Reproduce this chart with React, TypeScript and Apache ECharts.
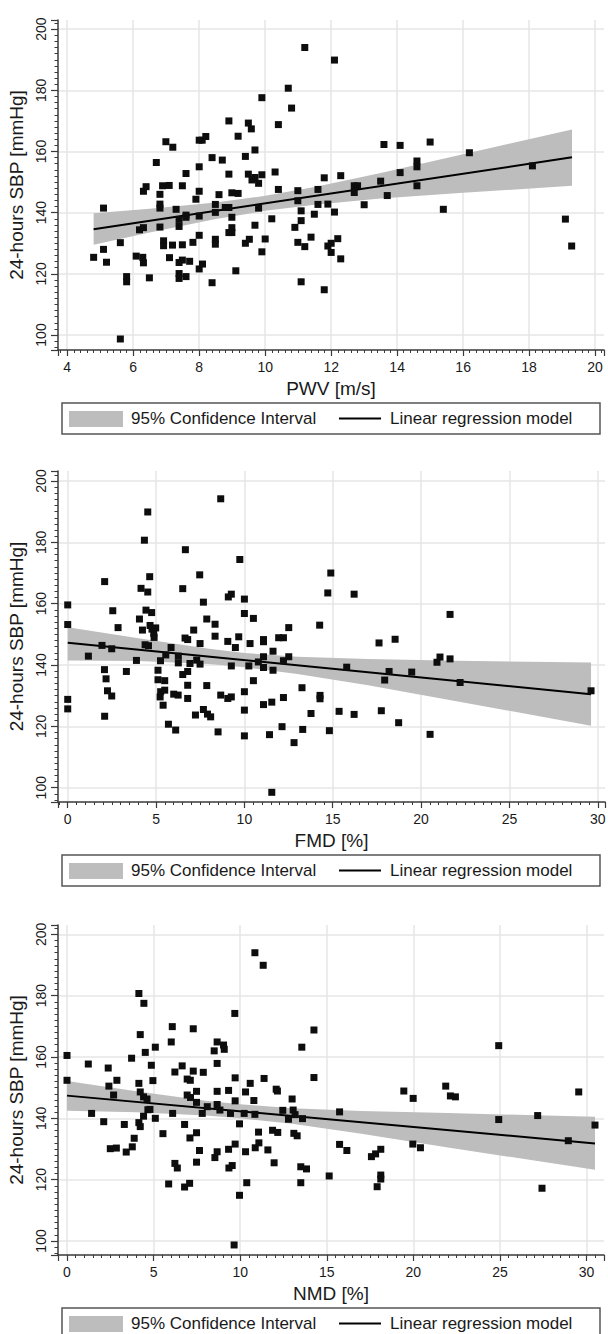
import React, { useEffect, useRef } from "react";
import * as echarts from "echarts";

const FONT = '"Liberation Sans", Arial, Helvetica, sans-serif';
const TEXT = "#1a1a1a";
const AXIS = "#3a3a3a";

const yAxisTitle = "24-hours SBP [mmHg]";
const xAxisTitles = ["PWV [m/s]", "FMD [%]", "NMD [%]"];
const legendLabels = ["95% Confidence Interval", "Linear regression model"];

// ---------- Panel 1: PWV ----------
const pwvPoints: number[][] = [
  [4.8, 125.4], [5.1, 141.5], [5.1, 128.0], [5.19, 123.8], [5.61, 130.2], [5.61, 98.7], [5.8, 119.1], [5.8, 117.4],
  [6.09, 125.8], [6.19, 134.4], [6.31, 135.1], [6.29, 125.4], [6.31, 123.6], [6.31, 147.0], [6.39, 148.5], [6.49, 118.7],
  [6.7, 156.4], [6.81, 146.0], [6.81, 142.8], [6.81, 141.5], [6.81, 135.3], [6.89, 148.8], [6.92, 130.8], [6.92, 129.2],
  [6.99, 163.2], [7.09, 148.9], [7.1, 125.3], [7.2, 161.4], [7.19, 129.4], [7.3, 141.1], [7.39, 137.8], [7.39, 135.5],
  [7.39, 123.7], [7.39, 120.1], [7.39, 118.5], [7.49, 148.8], [7.49, 129.5], [7.49, 124.5], [7.6, 152.8], [7.6, 139.2],
  [7.6, 138.5], [7.6, 119.1], [7.71, 124.1], [7.81, 130.3], [7.9, 144.4], [8.0, 163.7], [8.0, 155.0], [8.0, 147.0],
  [8.0, 138.9], [8.0, 132.6], [8.0, 121.6], [8.09, 163.7], [8.1, 123.2], [8.2, 164.9], [8.39, 158.0], [8.39, 117.1],
  [8.49, 142.7], [8.49, 140.1], [8.49, 131.3], [8.49, 129.7], [8.6, 145.9], [8.7, 157.2], [8.79, 141.7], [8.9, 170.0],
  [8.9, 152.6], [8.9, 141.7], [8.9, 133.5], [8.99, 146.5], [8.99, 138.5], [8.99, 135.1], [8.99, 133.5], [9.11, 121.0],
  [9.18, 165.0], [9.18, 146.3], [9.4, 158.4], [9.4, 130.0], [9.49, 169.3], [9.49, 152.6], [9.52, 131.3], [9.58, 167.4],
  [9.6, 150.7], [9.69, 160.5], [9.69, 151.5], [9.69, 135.9], [9.8, 149.6], [9.8, 141.5], [9.9, 177.6], [9.9, 152.4],
  [9.9, 127.2], [10.0, 131.4], [10.2, 138.0], [10.3, 153.3], [10.4, 168.8], [10.4, 147.6], [10.7, 180.7], [10.8, 174.2],
  [10.9, 135.2], [10.99, 147.2], [10.99, 143.9], [10.99, 130.3], [11.09, 117.4], [11.09, 140.6], [11.09, 137.4],
  [11.2, 194.0], [11.2, 128.9], [12.1, 189.9], [11.79, 151.4], [11.6, 147.6], [11.6, 142.7], [11.9, 142.8],
  [11.49, 139.5], [12.1, 140.2], [11.39, 132.0], [11.9, 129.1], [12.0, 130.0], [12.2, 131.5], [12.0, 127.0],
  [12.29, 124.9], [11.79, 114.8], [12.29, 152.1], [12.7, 148.8], [12.8, 148.8], [12.7, 146.6], [13.0, 142.6],
  [13.5, 150.3], [13.6, 162.3], [13.7, 145.6], [14.09, 162.0], [14.09, 153.1], [14.6, 156.9], [14.6, 155.0],
  [14.6, 148.8], [15.0, 163.1], [15.4, 141.1], [16.19, 159.6], [18.1, 155.3], [19.1, 137.9], [19.29, 129.1],
];
const pwvFit: number[][] = [[4.8, 134.6], [19.3, 158.1]];
const pwvCiX = [4.8, 6.5, 8.5, 10.0, 11.5, 13.5, 16.0, 19.3];
const pwvCiLow = [129.5, 133.5, 137.9, 140.6, 142.6, 144.6, 146.5, 148.8];
const pwvCiHigh = [139.8, 141.3, 143.3, 145.5, 148.4, 153.0, 159.1, 167.2];

// ---------- Panel 2: FMD ----------
const fmdPoints: number[][] = [
  [0, 159.6], [0, 153.2], [0, 128.8], [0, 125.7], [1.17, 142.9], [1.94, 146.4], [2.09, 167.2], [2.08, 138.5],
  [2.17, 135.5], [2.09, 123.3], [2.25, 131.6], [2.49, 129.9], [2.55, 157.7], [2.49, 145.3], [2.85, 152.2], [3.32, 137.9],
  [3.89, 141.5], [4.06, 155.0], [4.15, 165.0], [4.23, 151.4], [4.34, 180.7], [4.43, 157.9], [4.38, 146.6], [4.53, 163.8],
  [4.53, 189.9], [4.64, 168.8], [4.57, 146.3], [4.66, 152.9], [4.75, 157.1], [4.77, 151.7], [4.87, 150.3], [4.98, 152.1],
  [4.89, 149.0], [5.11, 138.3], [5.11, 135.2], [5.25, 141.4], [5.26, 131.3], [5.23, 129.6], [5.4, 126.9], [5.49, 134.9],
  [5.49, 131.8], [5.55, 143.3], [5.7, 120.7], [5.85, 145.7], [6.0, 130.5], [6.11, 118.8], [6.25, 130.2], [6.26, 142.9],
  [6.26, 140.7], [6.51, 164.9], [6.51, 136.9], [6.66, 177.6], [6.64, 148.8], [6.79, 148.3], [6.79, 137.9], [6.79, 133.4],
  [6.79, 129.1], [6.92, 140.5], [7.13, 151.4], [7.23, 123.7], [7.3, 141.6], [7.47, 169.4], [7.49, 147.0], [7.49, 140.3],
  [7.68, 160.5], [7.68, 125.5], [7.87, 155.0], [7.87, 133.3], [7.91, 124.0], [8.09, 123.1], [8.34, 153.3], [8.34, 149.4],
  [8.51, 118.2], [8.66, 194.2], [8.66, 130.2], [9.06, 147.7], [9.09, 162.2], [9.26, 163.1], [9.26, 139.7], [9.26, 129.6],
  [9.06, 129.1], [9.49, 145.7], [9.68, 149.2], [9.74, 174.4], [10.0, 161.5], [10.0, 156.8], [10.0, 131.3], [10.0, 125.3],
  [10.0, 116.9], [10.25, 139.7], [10.32, 147.0], [10.51, 155.2], [10.51, 134.9], [10.79, 141.0], [11.08, 148.3],
  [11.08, 147.6], [11.08, 142.7], [11.08, 139.2], [11.08, 127.1], [11.55, 127.9], [11.42, 117.3], [11.55, 98.5],
  [11.62, 144.5], [11.62, 138.3], [11.94, 148.9], [12.13, 119.9], [12.21, 148.9], [12.21, 141.4], [12.21, 129.4],
  [12.51, 152.2], [12.51, 142.7], [12.81, 114.7], [13.26, 132.6], [13.3, 119.0], [14.89, 170.0], [14.72, 163.5],
  [16.21, 163.1], [21.64, 156.5], [14.26, 153.0], [17.62, 147.2], [18.53, 148.4], [20.9, 140.9], [21.07, 142.6],
  [21.64, 142.0], [15.79, 139.3], [18.19, 137.9], [19.47, 137.7], [17.94, 135.1], [22.21, 134.3], [14.28, 130.1],
  [14.28, 129.0], [13.77, 124.2], [15.36, 124.9], [16.21, 123.9], [17.75, 125.1], [18.73, 121.2], [14.81, 118.6],
  [20.51, 117.4], [29.62, 131.6],
];
const fmdFit: number[][] = [[0, 147.3], [29.62, 130.5]];
const fmdCiX = [0, 4, 8, 10, 13, 17, 22, 29.62];
const fmdCiLow = [141.5, 141.3, 140.3, 139.3, 137.1, 133.4, 128.2, 120.2];
const fmdCiHigh = [152.3, 148.7, 145.3, 143.9, 142.7, 142.0, 141.4, 140.8];

// ---------- Panel 3: NMD ----------
const nmdPoints: number[][] = [
  [0, 160.5], [0, 152.4], [1.23, 157.7], [1.42, 141.6], [2.12, 138.9], [2.38, 156.4], [2.42, 150.5], [2.69, 147.6],
  [2.5, 130.1], [2.85, 130.3], [2.88, 152.4], [3.31, 138.0], [3.42, 129.0], [3.73, 159.6], [3.77, 130.7], [3.88, 133.5],
  [4.15, 180.7], [4.23, 167.3], [4.15, 151.4], [4.23, 148.6], [4.15, 138.6], [4.23, 137.3], [4.44, 177.5], [4.52, 161.5],
  [4.42, 147.0], [4.42, 140.7], [4.62, 146.3], [4.67, 142.8], [4.87, 157.3], [4.79, 142.9], [4.96, 152.3], [5.1, 163.2],
  [5.1, 140.0], [5.54, 135.0], [5.87, 118.6], [6.02, 164.9], [6.08, 169.9], [6.1, 141.6], [6.23, 155.1], [6.23, 125.3],
  [6.37, 123.8], [6.65, 157.1], [6.79, 138.0], [6.79, 117.6], [6.94, 152.8], [6.94, 147.6], [7.08, 118.8], [7.1, 133.6],
  [7.12, 152.4], [7.13, 146.8], [7.29, 169.2], [7.29, 155.4], [7.48, 148.8], [7.48, 145.2], [7.48, 135.3], [7.48, 125.7],
  [7.65, 129.5], [7.81, 141.6], [7.87, 155.0], [8.1, 143.8], [8.5, 162.0], [8.54, 127.2], [8.67, 164.9], [8.67, 157.9],
  [8.67, 148.8], [8.67, 144.5], [8.67, 129.1], [8.83, 142.7], [9.04, 163.9], [9.08, 162.5], [9.33, 149.1], [9.33, 129.9],
  [9.35, 123.8], [9.44, 141.6], [9.54, 124.6], [9.65, 98.7], [9.69, 174.2], [9.71, 153.2], [9.71, 145.7], [9.71, 131.6],
  [9.96, 114.9], [9.96, 138.2], [10.23, 141.6], [10.31, 129.1], [10.38, 119.0], [10.31, 148.6], [10.58, 151.4],
  [10.85, 194.0], [10.79, 145.8], [10.85, 141.3], [10.87, 130.4], [11.06, 135.5], [11.08, 132.0], [11.33, 189.9],
  [11.38, 153.0], [11.6, 129.7], [11.87, 136.1], [11.96, 125.5], [12.08, 149.5], [12.17, 135.4], [12.15, 148.9],
  [12.46, 142.6], [12.79, 139.7], [13.0, 146.3], [13.06, 142.7], [13.1, 135.1], [13.29, 134.3], [13.17, 141.2],
  [13.5, 124.2], [13.5, 119.0], [13.56, 163.2], [13.6, 139.9], [14.26, 168.8], [14.26, 153.3], [13.83, 123.5],
  [15.74, 142.1], [15.74, 131.5], [16.16, 129.5], [15.14, 121.2], [17.58, 127.5], [17.82, 128.4], [18.12, 129.9],
  [18.12, 121.5], [18.12, 120.2], [17.91, 117.7], [19.45, 148.9], [19.99, 146.5], [19.97, 131.6], [20.41, 130.4],
  [21.87, 150.5], [22.14, 147.3], [22.43, 147.0], [24.93, 163.7], [24.93, 139.6], [27.18, 140.9], [27.43, 117.2],
  [28.95, 132.7], [29.55, 148.6], [30.49, 137.8],
];
const nmdFit: number[][] = [[0, 147.4], [30.49, 131.8]];
const nmdCiX = [0, 4, 8, 10, 13, 17, 22, 30.49];
const nmdCiLow = [142.5, 142.0, 140.9, 140.0, 138.2, 135.0, 130.5, 123.2];
const nmdCiHigh = [152.2, 148.8, 145.7, 144.6, 143.3, 142.4, 141.7, 140.5];

const panels = [
  { points: pwvPoints, fit: pwvFit, ciX: pwvCiX, ciLow: pwvCiLow, ciHigh: pwvCiHigh, title: xAxisTitles[0],
    top: 20, height: 330, right: 4, xMin: 3.72, xMax: 20.27, yMin: 95.1, yMax: 203.0, xSplit: 8 },
  { points: fmdPoints, fit: fmdFit, ciX: fmdCiX, ciLow: fmdCiLow, ciHigh: fmdCiHigh, title: xAxisTitles[1],
    top: 471, height: 331, right: 3, xMin: -0.55, xMax: 30.41, yMin: 95.34, yMax: 203.26, xSplit: 6 },
  { points: nmdPoints, fit: nmdFit, ciX: nmdCiX, ciLow: nmdCiLow, ciHigh: nmdCiHigh, title: xAxisTitles[2],
    top: 925, height: 330, right: 4, xMin: -0.52, xMax: 31.01, yMin: 95.43, yMax: 203.04, xSplit: 6 },
];

export default function App() {
  const ref = useRef<HTMLDivElement>(null);
  useEffect(() => {
    document.body.style.margin = "0";
    const chart = echarts.init(ref.current as HTMLDivElement, null, { renderer: "svg" });

    const grid = panels.map((p) => ({
      left: 58, right: p.right, top: p.top, height: p.height,
      containLabel: false, outerBoundsMode: "none",
    }));

    const xAxis = panels.map((p, i) => ({
      type: "value", gridIndex: i, min: p.xMin, max: p.xMax, splitNumber: p.xSplit,
      name: p.title, nameLocation: "middle", nameGap: 29,
      nameTextStyle: { fontFamily: FONT, fontSize: 19, color: TEXT },
      axisLine: { show: true, onZero: false, lineStyle: { color: AXIS, width: 1.5 } },
      axisTick: { show: true, length: 6, lineStyle: { color: AXIS, width: 1.2 } },
      minorTick: { show: true, splitNumber: 10, length: 3, lineStyle: { color: AXIS, width: 1 } },
      axisLabel: { fontFamily: FONT, fontSize: 14, color: TEXT, margin: 10, showMinLabel: false, showMaxLabel: false },
      splitLine: { show: true, showMinLine: false, showMaxLine: false, lineStyle: { color: "#e6e6e6", width: 1.5 } },
      minorSplitLine: { show: false },
    }));

    const yAxis = panels.map((p, i) => ({
      type: "value", gridIndex: i, min: p.yMin, max: p.yMax, splitNumber: 5,
      name: yAxisTitle, nameLocation: "middle", nameGap: 23, nameRotate: 90,
      nameTextStyle: { fontFamily: FONT, fontSize: 19, color: TEXT },
      axisLine: { show: true, onZero: false, lineStyle: { color: AXIS, width: 1.5 } },
      axisTick: { show: true, length: 7, lineStyle: { color: AXIS, width: 1.2 } },
      minorTick: { show: true, splitNumber: 10, length: 3.5, lineStyle: { color: AXIS, width: 1 } },
      axisLabel: { fontFamily: FONT, fontSize: 14, color: TEXT, margin: 10, rotate: 90, showMinLabel: false, showMaxLabel: false },
      splitLine: { show: true, showMinLine: false, showMaxLine: false, lineStyle: { color: "#e6e6e6", width: 1.5 } },
      minorSplitLine: { show: false },
    }));

    const series: any[] = [];
    panels.forEach((p, i) => {
      series.push({
        name: legendLabels[0] + " " + i, type: "custom", xAxisIndex: i, yAxisIndex: i,
        data: p.ciX.map((x, k) => [x, p.ciLow[k], p.ciHigh[k]]),
        encode: { x: 0, y: [1, 2] }, silent: true, z: 1, clip: true,
        renderItem: (params: any, api: any) => {
          if (params.dataIndex !== 0) return null;
          const upper = p.ciX.map((x, k) => api.coord([x, p.ciHigh[k]]));
          const lower = p.ciX.map((x, k) => api.coord([x, p.ciLow[k]])).reverse();
          return { type: "polygon", shape: { points: upper.concat(lower) }, style: { fill: "#bdbdbd", stroke: "none" } };
        },
      });
      series.push({
        name: legendLabels[1] + " " + i, type: "line", xAxisIndex: i, yAxisIndex: i,
        data: p.fit, symbol: "none", silent: true, z: 3,
        lineStyle: { color: "#000", width: 2 },
      });
      series.push({
        name: "SBP " + i, type: "scatter", xAxisIndex: i, yAxisIndex: i,
        data: p.points, symbol: "rect", symbolSize: 7, z: 4, clip: false,
        itemStyle: { color: "#0d0d0d", opacity: 1 },
      });
    });

    const axisBottoms = panels.map((p) => p.top + p.height);
    const graphic: any[] = [];
    axisBottoms.forEach((b) => {
      const top = b + 53;
      const mid = top + 15.5;
      graphic.push(
        { type: "rect", shape: { x: 62, y: top, width: 538, height: 31 }, style: { fill: "#fff", stroke: "#555", lineWidth: 1.5 }, z: 10 },
        { type: "rect", shape: { x: 69, y: top + 8, width: 54, height: 16 }, style: { fill: "#bdbdbd" }, z: 11 },
        { type: "text", x: 131, y: mid, style: { text: legendLabels[0], fill: TEXT, fontSize: 17, fontFamily: FONT, verticalAlign: "middle", align: "left" }, z: 11 },
        { type: "line", shape: { x1: 339, y1: mid, x2: 381, y2: mid }, style: { stroke: "#000", lineWidth: 2 }, z: 11 },
        { type: "text", x: 390, y: mid, style: { text: legendLabels[1], fill: TEXT, fontSize: 17, fontFamily: FONT, verticalAlign: "middle", align: "left" }, z: 11 },
      );
    });

    chart.setOption({
      animation: false,
      backgroundColor: "#fff",
      textStyle: { fontFamily: FONT },
      grid, xAxis, yAxis, series, graphic,
    });
    return () => chart.dispose();
  }, []);
  return <div ref={ref} style={{ position: "absolute", left: 0, top: 0, width: 608, height: 1334 }} />;
}
